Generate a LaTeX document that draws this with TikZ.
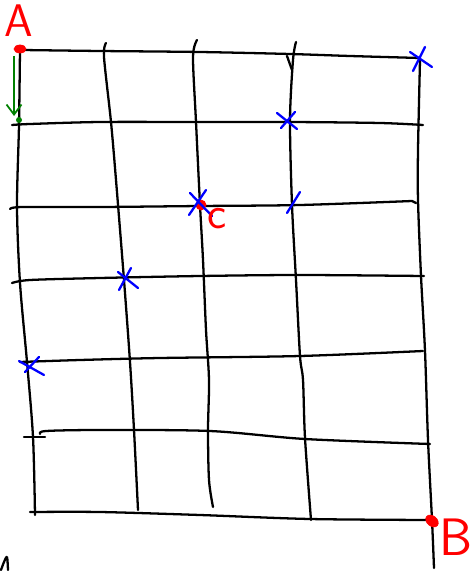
\documentclass[tikz,border=0pt]{standalone}
\usepackage{tikz}
\usepackage{xcolor}
\usetikzlibrary{arrows.meta, positioning}
\definecolor{inkblack}{HTML}{000000}
\definecolor{inkred}{HTML}{FF0000}
\definecolor{inkblue}{HTML}{0000FF}
\definecolor{inkgreen}{HTML}{008000}

\begin{document}
\begin{tikzpicture}[
    x=0.02cm, y=-0.02cm,
    % Stroke styles
    gridline/.style={draw=inkblack, line width=1.3pt, line cap=round, line join=round},
    cross/.style={draw=inkblue, line width=1.3pt, line cap=round},
    walk/.style={draw=inkgreen, line width=1pt, -{Straight Barb[length=2mm, width=3mm]}},
    dot/.style={fill=inkred, draw=inkred},
    pointlabel/.style={text=inkred, font=\sffamily, inner sep=0pt},
]
\useasboundingbox (0,0) rectangle (470,571);

% ============================================================================
% HORIZONTAL LINES
% ============================================================================
\draw[gridline] plot[smooth] coordinates {(22,50) (100,51) (200,52) (290,54) (350,56) (420,58)};
\draw[gridline] plot[smooth] coordinates {(12,125) (30,124) (100,122) (200,122) (290,122) (380,123) (423,125)};
\draw[gridline] plot[smooth] coordinates {(10,209) (22,207) (100,207) (200,206) (300,205) (412,201)} -- (416,203);
\draw[gridline] plot[smooth] coordinates {(12,283) (30,280) (100,278) (200,276) (300,275) (424,276)};
\draw[gridline] plot[smooth] coordinates {(20,362) (80,360) (160,358) (300,356) (423,351)};
\draw[gridline] (24,437) -- (45,437);
\draw[gridline] plot[smooth] coordinates {(40,434) (46,431) (100,430) (210,431) (305,439) (430,444)};
\draw[gridline] plot[smooth] coordinates {(30,512) (100,512) (200,515) (310,519) (432,520)};

% ============================================================================
% VERTICAL LINES
% ============================================================================
\draw[gridline] plot[smooth] coordinates {(20,49) (19,125) (17,207) (20,283) (27,362) (33,437) (35,515)};
\draw[gridline] plot[smooth] coordinates {(106,43) (104,57) (111,122) (116,180) (124,280) (130,362) (134,430) (138,510)};
\draw[gridline] plot[smooth] coordinates {(197,40) (193,57) (196,122) (200,205) (203,260) (206,330) (209,380) (208,430) (209,480) (213,507)};
\draw[gridline] plot[smooth] coordinates {(296,42) (293,60) (290,120) (292,205) (296,280) (300,356) (303,380) (305,438) (311,520)};
\draw[gridline] (287,56) -- (292,70);
\draw[gridline] plot[smooth] coordinates {(420,60) (418,150) (418,200) (421,276) (425,351) (428,440) (432,520) (434,568)};

% stray stroke, bottom left
\draw[gridline] plot[smooth] coordinates {(1,570) (4,562) (7,557) (8,570)};

% ============================================================================
% MARKED CROSSINGS
% ============================================================================
\draw[cross] (410,52) -- (432,67) (425,47) -- (413,71);
\draw[cross] (277,113) -- (297,129) (295,112) -- (281,128);
\draw[cross] (300,192) -- (287,213);
\draw[cross] (118,272) -- (138,288) (131,268) -- (119,290);
\draw[cross] (19,361) -- (44,375) (39,357) -- (25,372);

% ============================================================================
% POINTS A, B, C
% ============================================================================
\fill[dot] (20,49) ellipse [x radius=6, y radius=4];
\node[pointlabel, font=\sffamily\fontsize{26}{26}\selectfont] (labA) at (19,21) {A};

\fill[dot] (201,205) circle [radius=5];
\draw[cross] (190,193) -- (212,216) (206,190) -- (189,215);
\node[pointlabel, font=\sffamily\fontsize{26}{26}\selectfont] (labC) at (217,219) {c};

\fill[dot, rotate around={-40:(432,521)}] (432,521) ellipse [x radius=7, y radius=5];
\node[pointlabel, font=\sffamily\fontsize{30}{30}\selectfont] (labB) at (456,537) {B};

% ============================================================================
% FIRST STEP
% ============================================================================
\coordinate (stepfrom) at (14,56);
\coordinate (stepto) at (14,116);
\draw[walk] (stepfrom) -- (stepto);
\fill[inkgreen] (19,120) circle [radius=3];

\end{tikzpicture}
\end{document}
